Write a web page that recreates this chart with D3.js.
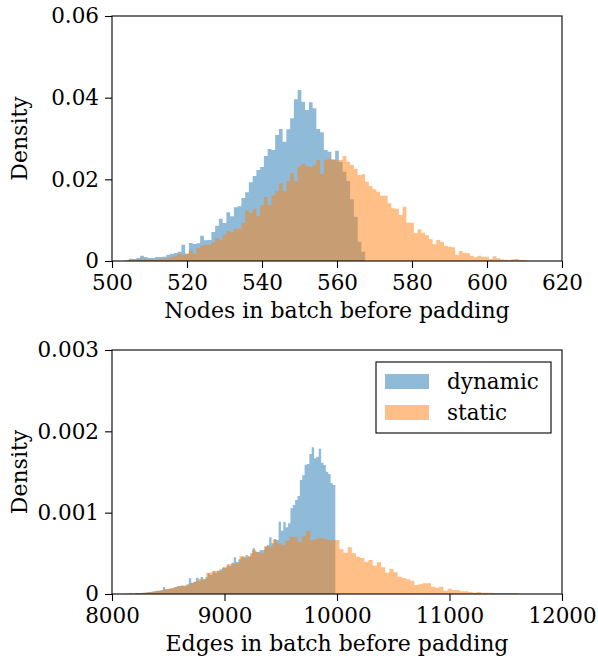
<!DOCTYPE html>
<html>
<head>
<meta charset="utf-8">
<script src="https://cdn.jsdelivr.net/npm/d3@7"></script>
<style>
  body { margin: 0; background: #fff; }
  svg text { font-family: "DejaVu Serif", serif; fill: #000; }
</style>
</head>
<body>
<svg id="chart" width="598" height="656"></svg>
<script>
// ---- Nodes per batch: integer bins of width 1, first bin centred on 504 ----
const nodeBinStart = 503.5;
const nodeBinWidth = 1;
// density values in units of 1e-3
const nodesDynamic = [
  0.17, 0.56, 0.49, 0.73, 1.30, 0.98, 0.73, 0.73, 0.98, 0.98,
  1.05, 1.54, 1.79, 1.96, 2.28, 3.99, 1.79, 4.41, 4.16, 4.33,
  6.20, 5.07, 5.14, 7.10, 8.64, 10.36, 9.31, 11.93, 10.95, 13.15,
  13.40, 15.43, 16.82, 19.27, 20.82, 22.29, 23.02, 25.71, 27.43, 27.18,
  30.86, 32.33, 29.22, 32.25, 34.95, 39.60, 41.88, 39.01, 36.98, 38.87,
  37.40, 32.33, 31.52, 27.18, 26.77, 24.73, 27.01, 24.25, 21.87, 19.59,
  15.11, 10.85, 4.73, 2.28
];
const nodesStatic = [
  0.07, 0.17, 0.24, 0.42, 0.56, 0.49, 0.42, 0.32, 0.42, 0.49,
  0.56, 0.73, 0.91, 1.15, 1.71, 1.54, 1.79, 2.62, 1.79, 3.18,
  3.67, 3.99, 3.99, 4.58, 5.63, 5.22, 6.44, 7.42, 7.03, 7.91,
  7.91, 9.31, 12.42, 11.76, 12.81, 10.95, 13.64, 15.67, 13.64, 16.09,
  17.07, 19.03, 17.07, 19.52, 21.55, 19.52, 23.19, 23.83, 23.19, 23.02,
  23.44, 24.81, 21.31, 24.81, 25.05, 24.98, 24.56, 24.73, 25.71, 24.32,
  23.51, 22.53, 21.06, 21.23, 19.42, 18.37, 17.56, 16.97, 15.99, 15.99,
  14.13, 12.91, 12.81, 11.27, 13.30, 9.38, 9.38, 6.78, 7.76, 6.93,
  6.29, 5.31, 4.09, 5.14, 4.73, 3.75, 3.50, 3.36, 1.54, 2.45,
  2.03, 1.89, 1.22, 0.91, 1.30, 1.05, 1.05, 0.49, 1.15, 0.66,
  0.42, 0.32, 0.24, 0.42, 0.49, 0.24, 0.24
];

// ---- Edges per batch ----
const edgeDynStart = 8095;
const edgeDynWidth = 21;
const edgeStaStart = 8134;
const edgeStaWidth = 37;
// density values in units of 1e-4
const edgesDynamic = [
  0.04, 0.04, 0.04, 0.08, 0.04, 0.08, 0.12, 0.12, 0.16, 0.16,
  0.21, 0.25, 0.29, 0.33, 0.37, 0.41, 0.45, 0.86, 0.57, 0.61,
  0.66, 0.70, 0.86, 0.94, 1.02, 1.02, 0.98, 1.19, 1.93, 1.39,
  1.52, 2.01, 1.64, 2.09, 1.84, 2.05, 2.54, 2.34, 2.83, 2.62,
  2.87, 3.03, 3.24, 3.20, 3.52, 3.44, 3.85, 4.51, 3.93, 4.26,
  4.51, 4.59, 4.80, 4.59, 5.00, 5.61, 5.20, 5.20, 5.41, 5.41,
  5.82, 5.98, 6.97, 6.23, 6.76, 6.64, 8.89, 7.79, 8.85, 8.20,
  8.69, 10.53, 10.94, 11.56, 12.05, 14.02, 14.59, 15.90, 15.98, 17.21,
  18.03, 16.68, 16.88, 17.87, 16.15, 15.86, 15.04, 14.75, 13.61, 13.40
];
const edgesStatic = [
  0.04, 0.04, 0.08, 0.12, 0.16, 0.21, 0.29, 0.41, 0.45, 0.57,
  0.70, 0.82, 0.94, 1.02, 1.07, 1.31, 1.52, 1.89, 1.72, 2.62,
  2.66, 2.87, 2.87, 3.36, 3.69, 3.69, 3.77, 4.67, 4.39, 4.67,
  5.41, 5.12, 5.00, 5.90, 5.82, 6.64, 6.23, 6.02, 6.56, 7.01,
  7.05, 6.43, 7.13, 7.79, 6.64, 6.80, 6.93, 6.76, 6.64, 6.64,
  6.64, 5.50, 5.08, 5.74, 5.00, 4.59, 4.43, 3.97, 4.18, 3.48,
  3.90, 3.28, 2.62, 3.07, 2.67, 2.13, 1.97, 1.81, 1.64, 1.11,
  1.19, 1.32, 1.32, 0.90, 0.77, 0.90, 0.41, 0.65, 0.49, 0.49,
  0.33, 0.33, 0.25, 0.16, 0.25, 0.16, 0.16, 0.16, 0.12, 0.12,
  0.12, 0.12, 0.10, 0.08
];

// ---- Axis ticks ----
const nodeTicksX = [500, 520, 540, 560, 580, 600, 620];
const nodeTicksY = [0, 0.02, 0.04, 0.06];
const edgeTicksX = [8000, 9000, 10000, 11000, 12000];
const edgeTicksY = [0, 0.001, 0.002, 0.003];

const seriesNames = ["dynamic", "static"];
const seriesColors = ["#1f77b4", "#ff7f0e"];

const svg = d3.select("#chart");
const TICK_FONT = 21.5;
const LABEL_FONT = 22;

function toBins(values, start, width, scale) {
  return values.map((v, i) => ({ x0: start + i * width, x1: start + (i + 1) * width, v: v * scale }));
}

function drawPanel(cfg) {
  const { left, right, top, bottom } = cfg;
  const x = d3.scaleLinear().domain(cfg.xDomain).range([left, right]);
  const y = d3.scaleLinear().domain(cfg.yDomain).range([bottom, top]);
  const g = svg.append("g");

  // histogram outlines as stepped areas
  const area = d3.area()
    .curve(d3.curveStepAfter)
    .x(d => x(d.x))
    .y0(y(0))
    .y1(d => y(d.v));

  cfg.series.forEach((bins, k) => {
    const pts = bins.map(b => ({ x: b.x0, v: b.v }));
    pts.push({ x: bins[bins.length - 1].x1, v: bins[bins.length - 1].v });
    g.append("path")
      .attr("d", area(pts))
      .attr("fill", seriesColors[k])
      .attr("fill-opacity", 0.5);
  });

  // axes
  const xAxis = d3.axisBottom(x).tickValues(cfg.xTicks).tickSize(7).tickSizeOuter(0)
    .tickPadding(7).tickFormat(d3.format("d"));
  const yAxis = d3.axisLeft(y).tickValues(cfg.yTicks).tickSize(7).tickSizeOuter(0)
    .tickPadding(6).tickFormat(cfg.yFormat);

  const gx = g.append("g").attr("transform", `translate(0,${bottom})`).call(xAxis);
  const gy = g.append("g").attr("transform", `translate(${left},0)`).call(yAxis);
  [gx, gy].forEach(a => {
    a.select(".domain").remove();
    a.selectAll(".tick line").attr("stroke", "#000").attr("stroke-width", 1.1);
    a.selectAll(".tick text").attr("font-size", TICK_FONT).attr("font-family", "DejaVu Serif").attr("fill", "#000");
  });

  // frame
  g.append("rect")
    .attr("x", left).attr("y", top)
    .attr("width", right - left).attr("height", bottom - top)
    .attr("fill", "none").attr("stroke", "#000").attr("stroke-width", 1.1);

  // labels
  g.append("text")
    .attr("x", (left + right) / 2).attr("y", cfg.xLabelY)
    .attr("text-anchor", "middle").attr("font-size", LABEL_FONT)
    .text(cfg.xLabel);
  g.append("text")
    .attr("transform", `translate(27,${(top + bottom) / 2}) rotate(-90)`)
    .attr("text-anchor", "middle").attr("font-size", LABEL_FONT)
    .text("Density");

  return { x, y, g };
}

drawPanel({
  left: 112, right: 562, top: 16, bottom: 261,
  xDomain: [500, 620], yDomain: [0, 0.06],
  xTicks: nodeTicksX, yTicks: nodeTicksY,
  yFormat: d => d === 0 ? "0" : d3.format(".2f")(d),
  xLabel: "Nodes in batch before padding", xLabelY: 318,
  series: [
    toBins(nodesDynamic, nodeBinStart, nodeBinWidth, 1e-3),
    toBins(nodesStatic, nodeBinStart, nodeBinWidth, 1e-3)
  ]
});

drawPanel({
  left: 112, right: 562, top: 350, bottom: 594,
  xDomain: [8000, 12000], yDomain: [0, 0.003],
  xTicks: edgeTicksX, yTicks: edgeTicksY,
  yFormat: d => d === 0 ? "0" : d3.format(".3f")(d),
  xLabel: "Edges in batch before padding", xLabelY: 651,
  series: [
    toBins(edgesDynamic, edgeDynStart, edgeDynWidth, 1e-4),
    toBins(edgesStatic, edgeStaStart, edgeStaWidth, 1e-4)
  ]
});

// legend
const lg = svg.append("g").attr("transform", "translate(376,362)");
lg.append("rect").attr("width", 175).attr("height", 71)
  .attr("fill", "#fff").attr("stroke", "#000").attr("stroke-width", 1.1);
seriesNames.forEach((name, i) => {
  const row = lg.append("g").attr("transform", `translate(9,${12 + i * 31})`);
  row.append("rect").attr("width", 44).attr("height", 15)
    .attr("fill", seriesColors[i]).attr("fill-opacity", 0.5);
  row.append("text").attr("x", 62).attr("y", 15).attr("font-size", TICK_FONT).text(name);
});
</script>
</body>
</html>
